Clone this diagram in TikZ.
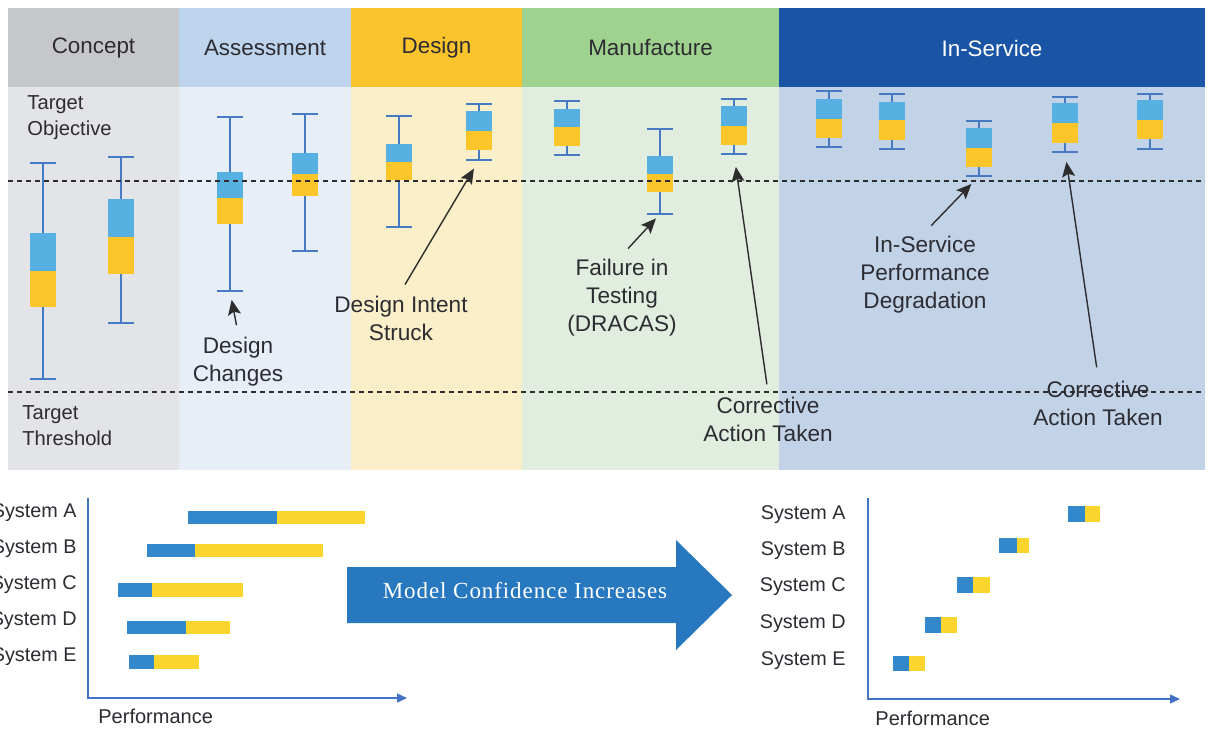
\documentclass[tikz,border=0pt]{standalone}
\usepackage{fontspec}
\setmainfont{Liberation Sans}
\newfontfamily\timesfont[LetterSpace=4]{Liberation Serif}
\usetikzlibrary{arrows.meta}

\definecolor{cphead}{RGB}{198,199,201}
\definecolor{cpbody}{RGB}{227,228,232}
\definecolor{ashead}{RGB}{190,212,237}
\definecolor{asbody}{RGB}{231,238,247}
\definecolor{dshead}{RGB}{252,196,44}
\definecolor{dsbody}{RGB}{250,239,200}
\definecolor{mfhead}{RGB}{160,210,143}
\definecolor{mfbody}{RGB}{225,237,223}
\definecolor{ishead}{RGB}{26,84,165}
\definecolor{isbody}{RGB}{194,211,232}
\definecolor{boxblue}{RGB}{86,176,226}
\definecolor{boxgold}{RGB}{252,197,42}
\definecolor{whiskblue}{RGB}{70,122,194}
\definecolor{barblue}{RGB}{51,136,204}
\definecolor{bargold}{RGB}{250,213,46}
\definecolor{axisblue}{RGB}{68,114,196}
\definecolor{bigblue}{RGB}{40,120,192}
\definecolor{txtgray}{RGB}{44,44,50}
\definecolor{ptrgray}{RGB}{45,45,45}

\tikzset{
  whisk/.style={draw=whiskblue, line width=1pt},
  phase/.style={font=\fontsize{11.2}{13}\selectfont},
  note/.style={align=center, text=txtgray, inner sep=2pt,
    font=\fontsize{11.3}{14}\selectfont},
  target/.style={align=left, text=txtgray, inner sep=0pt, anchor=west,
    font=\fontsize{10.1}{13}\selectfont},
  pointer/.style={draw=ptrgray, line width=0.7pt,
    -{Stealth[length=7.5pt,width=6.5pt,inset=1.5pt]}},
  limit/.style={draw=ptrgray, line width=0.6pt, dash pattern=on 2.6pt off 1.9pt},
  sys/.style={text=txtgray, inner sep=0pt, anchor=east,
    font=\fontsize{9.9}{11}\selectfont},
  perf/.style={text=txtgray, inner sep=0pt, anchor=west,
    font=\fontsize{10}{11}\selectfont},
  axis/.style={draw=axisblue, line width=0.7pt, -{Triangle[length=5pt,width=4.5pt]}}
}

% box plot: name, x, top cap, box top, middle, box bottom, bottom cap
\newcommand{\bplot}[7]{%
  \draw[whisk] (#2,#3) -- (#2,#7);
  \fill[boxblue] (#2-13,#4) rectangle (#2+13,#5);
  \fill[boxgold] (#2-13,#5) rectangle (#2+13,#6);
  \draw[whisk] (#2-13,#3) -- (#2+13,#3);
  \draw[whisk] (#2-13,#7) -- (#2+13,#7);
  \coordinate (#1) at (#2,#7);
}

\begin{document}
\begin{tikzpicture}[x=0.5pt,y=-0.5pt]
  \fill[white] (0,0) rectangle (1208,729);
  \useasboundingbox (0,0) rectangle (1208,729);

  % phases
  \foreach \xa/\xb/\hc/\bc/\lbl/\tc in {8/179/cphead/cpbody/Concept/txtgray,
      179/351/ashead/asbody/Assessment/txtgray, 351/522/dshead/dsbody/Design/txtgray,
      522/779/mfhead/mfbody/Manufacture/txtgray, 779/1205/ishead/isbody/In-Service/white}{
    \fill[\bc] (\xa,87) rectangle (\xb,470);
    \fill[\hc] (\xa,8) rectangle (\xb,87);
    \node[phase,text=\tc] (ph-\lbl) at ({(\xa+\xb)/2},48) {\lbl};
  }

  \node[target] (tobj) at (27,118) {Target\\Objective};
  \node[target] (tthr) at (22,426) {Target\\Threshold};

  % box plots
  \bplot{cp1}{43}{163}{233}{271}{307}{379}
  \bplot{cp2}{121}{157}{199}{237}{274}{323}
  \bplot{as1}{230}{117}{172}{198}{224}{291}
  \bplot{as2}{305}{114}{153}{174}{196}{251}
  \bplot{ds1}{399}{116}{144}{162}{180}{227}
  \bplot{ds2}{479}{104}{111}{131}{150}{160}
  \bplot{mf1}{567}{101}{109}{127}{146}{155}
  \bplot{mf2}{660}{129}{156}{174}{192}{214}
  \bplot{mf3}{734}{99}{106}{126}{145}{154}
  \bplot{is1}{829}{91}{99}{119}{138}{147}
  \bplot{is2}{892}{94}{102}{120}{140}{149}
  \bplot{is3}{979}{121}{128}{148}{167}{176}
  \bplot{is4}{1065}{97}{103}{123}{143}{152}
  \bplot{is5}{1150}{94}{100}{120}{139}{149}

  % annotations
  \node[note] (dchg) at (238,362) {Design\\Changes};
  \node[note] (dint) at (401,318) {Design Intent\\Struck};
  \node[note] (fail) at (622,298) {Failure in\\Testing\\(DRACAS)};
  \node[note] (corr1) at (768,419) {Corrective\\Action Taken};
  \node[note] (degr) at (925,275) {In-Service\\Performance\\Degradation};
  \node[note] (corr2) at (1098,403) {Corrective\\Action Taken};

  \draw[pointer, shorten <=4pt, shorten >=4.5pt] (dchg.north) -- (as1);
  \draw[pointer, shorten <=4pt, shorten >=5pt] (dint.north) -- (ds2);
  \draw[pointer, shorten <=4.5pt, shorten >=3pt] (fail.north) -- (mf2);
  \draw[pointer, shorten <=4pt, shorten >=6.5pt] (corr1.north) -- (mf3);
  \draw[pointer, shorten <=4.5pt, shorten >=5.5pt] (degr.north) -- (is3);
  \draw[pointer, shorten <=4.5pt, shorten >=5pt] (corr2.north) -- (is4);

  % limits
  \draw[limit] (8,181) -- (1205,181);
  \draw[limit] (8,392) -- (1205,392);

  % left chart
  \coordinate (lo) at (88,698);
  \draw[axis] (88,498) -- (lo) -- (407,698);
  \foreach \ya/\yb/\xa/\xm/\xb in {511/524/188/277/365, 544/557/147/195/323,
      583/597/118/152/243, 621/634/127/186/230, 655/669/129/154/199}{
    \fill[barblue] (\xa,\ya) rectangle (\xm,\yb);
    \fill[bargold] (\xm,\ya) rectangle (\xb,\yb);
  }
  \foreach \s/\y in {A/513,B/549,C/585,D/621,E/657}
    \node[sys] (ls\s) at (77,\y) {System \s};
  \node[perf] (lperf) at (98,716) {Performance};

  % arrow
  \fill[bigblue] (347,567) -- (676,567) -- (676,540) -- (732,595)
    -- (676,650) -- (676,623) -- (347,623) -- cycle;
  \node[text=white, font=\timesfont\fontsize{11.5}{13}\selectfont] (conf) at (525,591)
    {Model Confidence Increases};

  % right chart
  \coordinate (ro) at (868,699);
  \draw[axis] (868,498) -- (ro) -- (1180,699);
  \foreach \ya/\yb/\xa/\xm/\xb in {506/522/1068/1085/1100, 538/553/999/1017/1029,
      577/593/957/973/990, 617/633/925/941/957, 656/671/893/909/925}{
    \fill[barblue] (\xa,\ya) rectangle (\xm,\yb);
    \fill[bargold] (\xm,\ya) rectangle (\xb,\yb);
  }
  \foreach \s/\y in {A/515,B/551,C/587,D/624,E/661}
    \node[sys] (rs\s) at (846,\y) {System \s};
  \node[perf] (rperf) at (875,718) {Performance};
\end{tikzpicture}
\end{document}
